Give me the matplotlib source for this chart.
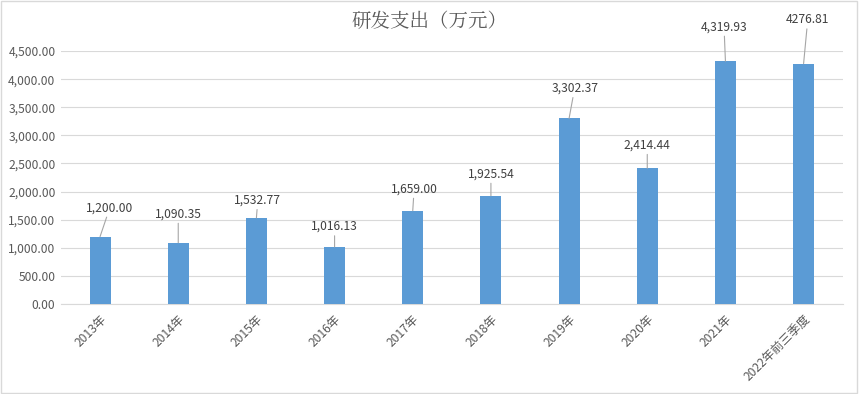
import matplotlib.pyplot as plt
from matplotlib.patches import Rectangle

plt.rcParams['font.family'] = ['Noto Sans CJK SC', 'DejaVu Sans']

# ---- data ----
categories = ["2013年", "2014年", "2015年", "2016年", "2017年",
              "2018年", "2019年", "2020年", "2021年", "2022年前三季度"]
values = [1200.00, 1090.35, 1532.77, 1016.13, 1659.00,
          1925.54, 3302.37, 2414.44, 4319.93, 4276.81]
value_labels = ["1,200.00", "1,090.35", "1,532.77", "1,016.13", "1,659.00",
                "1,925.54", "3,302.37", "2,414.44", "4,319.93", "4276.81"]
y_ticks = [0, 500, 1000, 1500, 2000, 2500, 3000, 3500, 4000, 4500]

# label offsets in points (dx, dy) from bar top
label_offsets = [(7, 16), (0, 16), (1, 8), (0, 10), (1, 11),
                 (0, 11), (4, 17), (0, 12), (-1, 20), (3, 27)]

bar_color = "#5b9bd5"
text_color = "#595959"
grid_color = "#d9d9d9"

fig = plt.figure(figsize=(8.59, 3.94), dpi=100)
ax = fig.add_axes([0.071, 0.2284, 0.910, 0.642])

x = list(range(len(categories)))
ax.bar(x, values, width=0.27, color=bar_color, zorder=3)

ax.set_xlim(-0.5, len(categories) - 0.5)
ax.set_ylim(0, 4500)
ax.set_yticks(y_ticks)
ax.set_yticklabels([f"{v:,.2f}" for v in y_ticks], fontsize=8.7, color=text_color)
ax.set_xticks(x)
ax.set_xticklabels(categories, rotation=45, ha="right", va="top",
                   rotation_mode="anchor", fontsize=8.7, color=text_color)
ax.tick_params(axis="both", length=0, pad=4)
ax.tick_params(axis="x", pad=6)

ax.grid(axis="y", color=grid_color, linewidth=0.8, zorder=0)
for s in ["top", "right", "left"]:
    ax.spines[s].set_visible(False)
ax.spines["bottom"].set_color(grid_color)

for xi, v, lab, off in zip(x, values, value_labels, label_offsets):
    ax.annotate(lab, xy=(xi, v), xytext=off, textcoords="offset points",
                ha="center", va="bottom", fontsize=8.7, color="#404040",
                arrowprops=dict(arrowstyle="-", color="#a6a6a6", lw=0.8,
                                shrinkA=0, shrinkB=0))

fig.text(0.5, 0.945, "研发支出（万元）", ha="center", va="center",
         fontsize=14, color=text_color, family=['Noto Serif CJK SC', 'Noto Sans CJK SC', 'DejaVu Sans'])

fig.patches.append(Rectangle((0.001, 0.002), 0.997, 0.995, transform=fig.transFigure,
                             fill=False, edgecolor=grid_color, linewidth=1))

fig.savefig("out.png", dpi=100)
